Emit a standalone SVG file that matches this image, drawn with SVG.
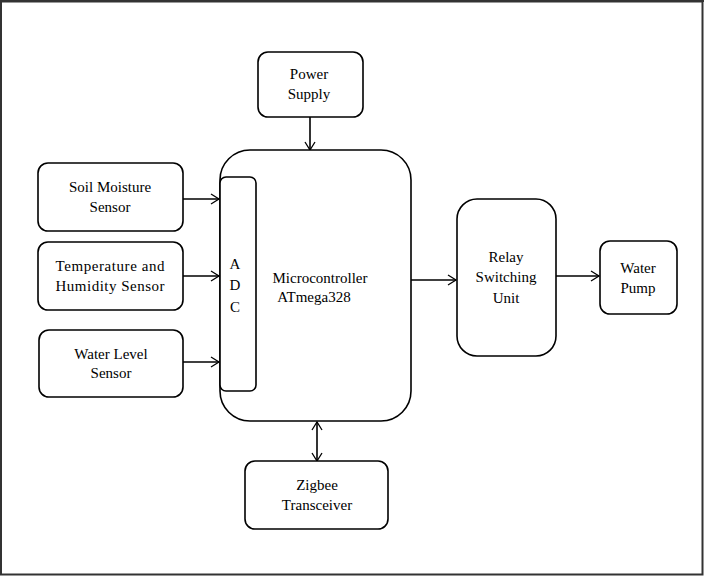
<svg xmlns="http://www.w3.org/2000/svg" width="704" height="576" viewBox="0 0 704 576">
<style>
.box{fill:#fff;stroke:#000;stroke-width:1.6}
.t{font-size:15px;fill:#000;text-anchor:middle}
.c{stroke:#000;stroke-width:1.6;fill:none}
</style>
<defs>
<marker id="ah" markerWidth="12" markerHeight="12" refX="9" refY="6" orient="auto-start-reverse" markerUnits="userSpaceOnUse">
<polyline points="1,1 9,6 1,11" fill="none" stroke="#000" stroke-width="1.3"/>
</marker>
</defs>
<rect x="0" y="0" width="704" height="576" fill="#fff"/>
<rect x="1" y="1.5" width="701.5" height="573" fill="none" stroke="#333" stroke-width="2"/>
<line x1="0" y1="1" x2="704" y2="1" stroke="#333" stroke-width="2"/>
<g id="connectors">
<line class="c" x1="310" y1="117" x2="310" y2="150" marker-end="url(#ah)"/>
<line class="c" x1="183" y1="199" x2="219" y2="199" marker-end="url(#ah)"/>
<line class="c" x1="183" y1="276" x2="219" y2="276" marker-end="url(#ah)"/>
<line class="c" x1="183" y1="362" x2="219" y2="362" marker-end="url(#ah)"/>
<line class="c" x1="411" y1="280" x2="456" y2="280" marker-end="url(#ah)"/>
<line class="c" x1="556" y1="276" x2="599" y2="276" marker-end="url(#ah)"/>
<line class="c" x1="317" y1="422" x2="317" y2="461" marker-start="url(#ah)" marker-end="url(#ah)"/>
</g>
<g font-family="Liberation Serif, Times New Roman, serif">
<g id="power">
<rect class="box" x="258" y="52" width="105" height="65" rx="10"/>
<text class="t" x="309" y="79">Power</text>
<text class="t" x="309" y="99">Supply</text>
</g>
<g id="micro">
<rect class="box" x="220" y="150" width="191" height="271" rx="30"/>
<text class="t" x="320" y="283">Microcontroller</text>
<text class="t" x="314" y="302">ATmega328</text>
</g>
<g id="adc">
<rect class="box" x="220" y="177" width="36" height="214" rx="6"/>
<text class="t" x="235" y="269">A</text>
<text class="t" x="235" y="290">D</text>
<text class="t" x="235" y="312">C</text>
</g>
<g id="soil">
<rect class="box" x="38" y="163" width="145" height="68" rx="10"/>
<text class="t" x="110" y="192">Soil Moisture</text>
<text class="t" x="110" y="212">Sensor</text>
</g>
<g id="temp">
<rect class="box" x="38" y="242" width="145" height="68" rx="10"/>
<text class="t" x="110" y="271" textLength="109" lengthAdjust="spacing">Temperature  and</text>
<text class="t" x="110" y="291" textLength="109" lengthAdjust="spacing">Humidity Sensor</text>
</g>
<g id="water">
<rect class="box" x="39" y="330" width="144" height="67" rx="10"/>
<text class="t" x="111" y="359">Water Level</text>
<text class="t" x="111" y="378">Sensor</text>
</g>
<g id="relay">
<rect class="box" x="457" y="199" width="99" height="157" rx="20"/>
<text class="t" x="506" y="262">Relay</text>
<text class="t" x="506" y="282">Switching</text>
<text class="t" x="506" y="303">Unit</text>
</g>
<g id="pump">
<rect class="box" x="600" y="241" width="77" height="73" rx="10"/>
<text class="t" x="638" y="273">Water</text>
<text class="t" x="638" y="293">Pump</text>
</g>
<g id="zigbee">
<rect class="box" x="245" y="461" width="143" height="68" rx="10"/>
<text class="t" x="317" y="490">Zigbee</text>
<text class="t" x="317" y="510">Transceiver</text>
</g>
</g>
</svg>
